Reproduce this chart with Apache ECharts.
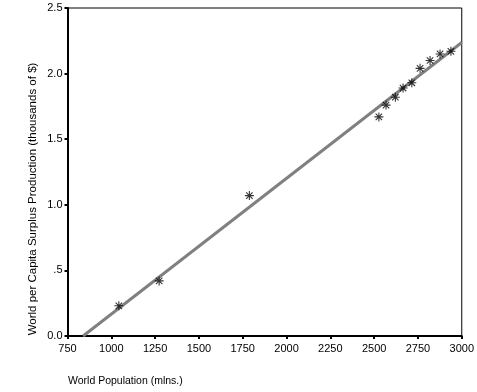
<!DOCTYPE html>
<html>
<head>
<meta charset="utf-8">
<script src="https://cdn.jsdelivr.net/npm/echarts@6/dist/echarts.min.js"></script>
<style>
  html, body { margin: 0; padding: 0; background: #fff; }
  #chart { width: 477px; height: 392px; }
</style>
</head>
<body>
<div id="chart"></div>
<script>
// world population (mlns.) vs surplus production per capita (thousands of $)
var population = [1043, 1273, 1788, 2527, 2568, 2621, 2665, 2715, 2762, 2819, 2876, 2938]
var surplus = [0.23, 0.42, 1.07, 1.67, 1.76, 1.82, 1.89, 1.93, 2.04, 2.10, 2.15, 2.17]
// fitted line end points
var fitX = [839, 3000]
var fitY = [0, 2.237]

var xTicks = [750, 1000, 1250, 1500, 1750, 2000, 2250, 2500, 2750, 3000]
var yTicks = ['0.0', '.5', '1.0', '1.5', '2.0', '2.5']

var points = population.map(function(p, i) { return [p, surplus[i]] })
var fitLine = fitX.map(function(x, i) { return [x, fitY[i]] })

// asterisk: horizontal, vertical and two diagonal arms
var star = 'path://M0 8.8L20 8.8L20 11.2L0 11.2Z M8.8 0L11.2 0L11.2 20L8.8 20Z ' +
  'M3.7 2L18 16.3L16.3 18L2 3.7Z M16.3 2L18 3.7L3.7 18L2 16.3Z'

var font = 'Liberation Sans, Arial, sans-serif'
var chart = echarts.init(document.getElementById('chart'))
chart.setOption({
  animation: false,
  grid: {
    left: 67.5, right: 12, top: 8, bottom: 56,
    show: true, borderColor: '#000', borderWidth: 1
  },
  xAxis: {
    type: 'value',
    min: 750, max: 3000, interval: 250,
    splitLine: { show: false },
    axisLine: { onZero: false, lineStyle: { color: '#000', width: 2 } },
    axisTick: { length: 3, lineStyle: { color: '#000', width: 2 } },
    axisLabel: {
      margin: 7, color: '#000', fontSize: 11, fontFamily: font,
      formatter: function(v) { return xTicks.indexOf(v) >= 0 ? String(v) : '' }
    }
  },
  yAxis: {
    type: 'value',
    min: 0, max: 2.5, interval: 0.5,
    splitLine: { show: false },
    axisLine: { onZero: false, lineStyle: { color: '#000', width: 2 } },
    axisTick: { length: 3, lineStyle: { color: '#000', width: 2 } },
    axisLabel: {
      margin: 5, color: '#000', fontSize: 11, fontFamily: font,
      formatter: function(v) { return yTicks[Math.round(v / 0.5)] }
    }
  },
  graphic: [
    {
      type: 'text', x: 33, y: 199, rotation: Math.PI / 2,
      style: {
        text: 'World per Capita Surplus Production (thousands of $)',
        fill: '#000', font: '11.5px ' + font,
        align: 'center', verticalAlign: 'middle'
      }
    },
    {
      type: 'text', x: 68, y: 381,
      style: {
        text: 'World Population (mlns.)',
        fill: '#000', font: '10.5px ' + font,
        align: 'left', verticalAlign: 'middle'
      }
    }
  ],
  series: [
    {
      type: 'line',
      data: fitLine,
      symbol: 'none',
      lineStyle: { color: '#808080', width: 3 },
      z: 2
    },
    {
      type: 'scatter',
      data: points,
      symbol: star,
      symbolSize: 9,
      itemStyle: { color: '#000' },
      z: 3
    }
  ]
})
</script>
</body>
</html>
